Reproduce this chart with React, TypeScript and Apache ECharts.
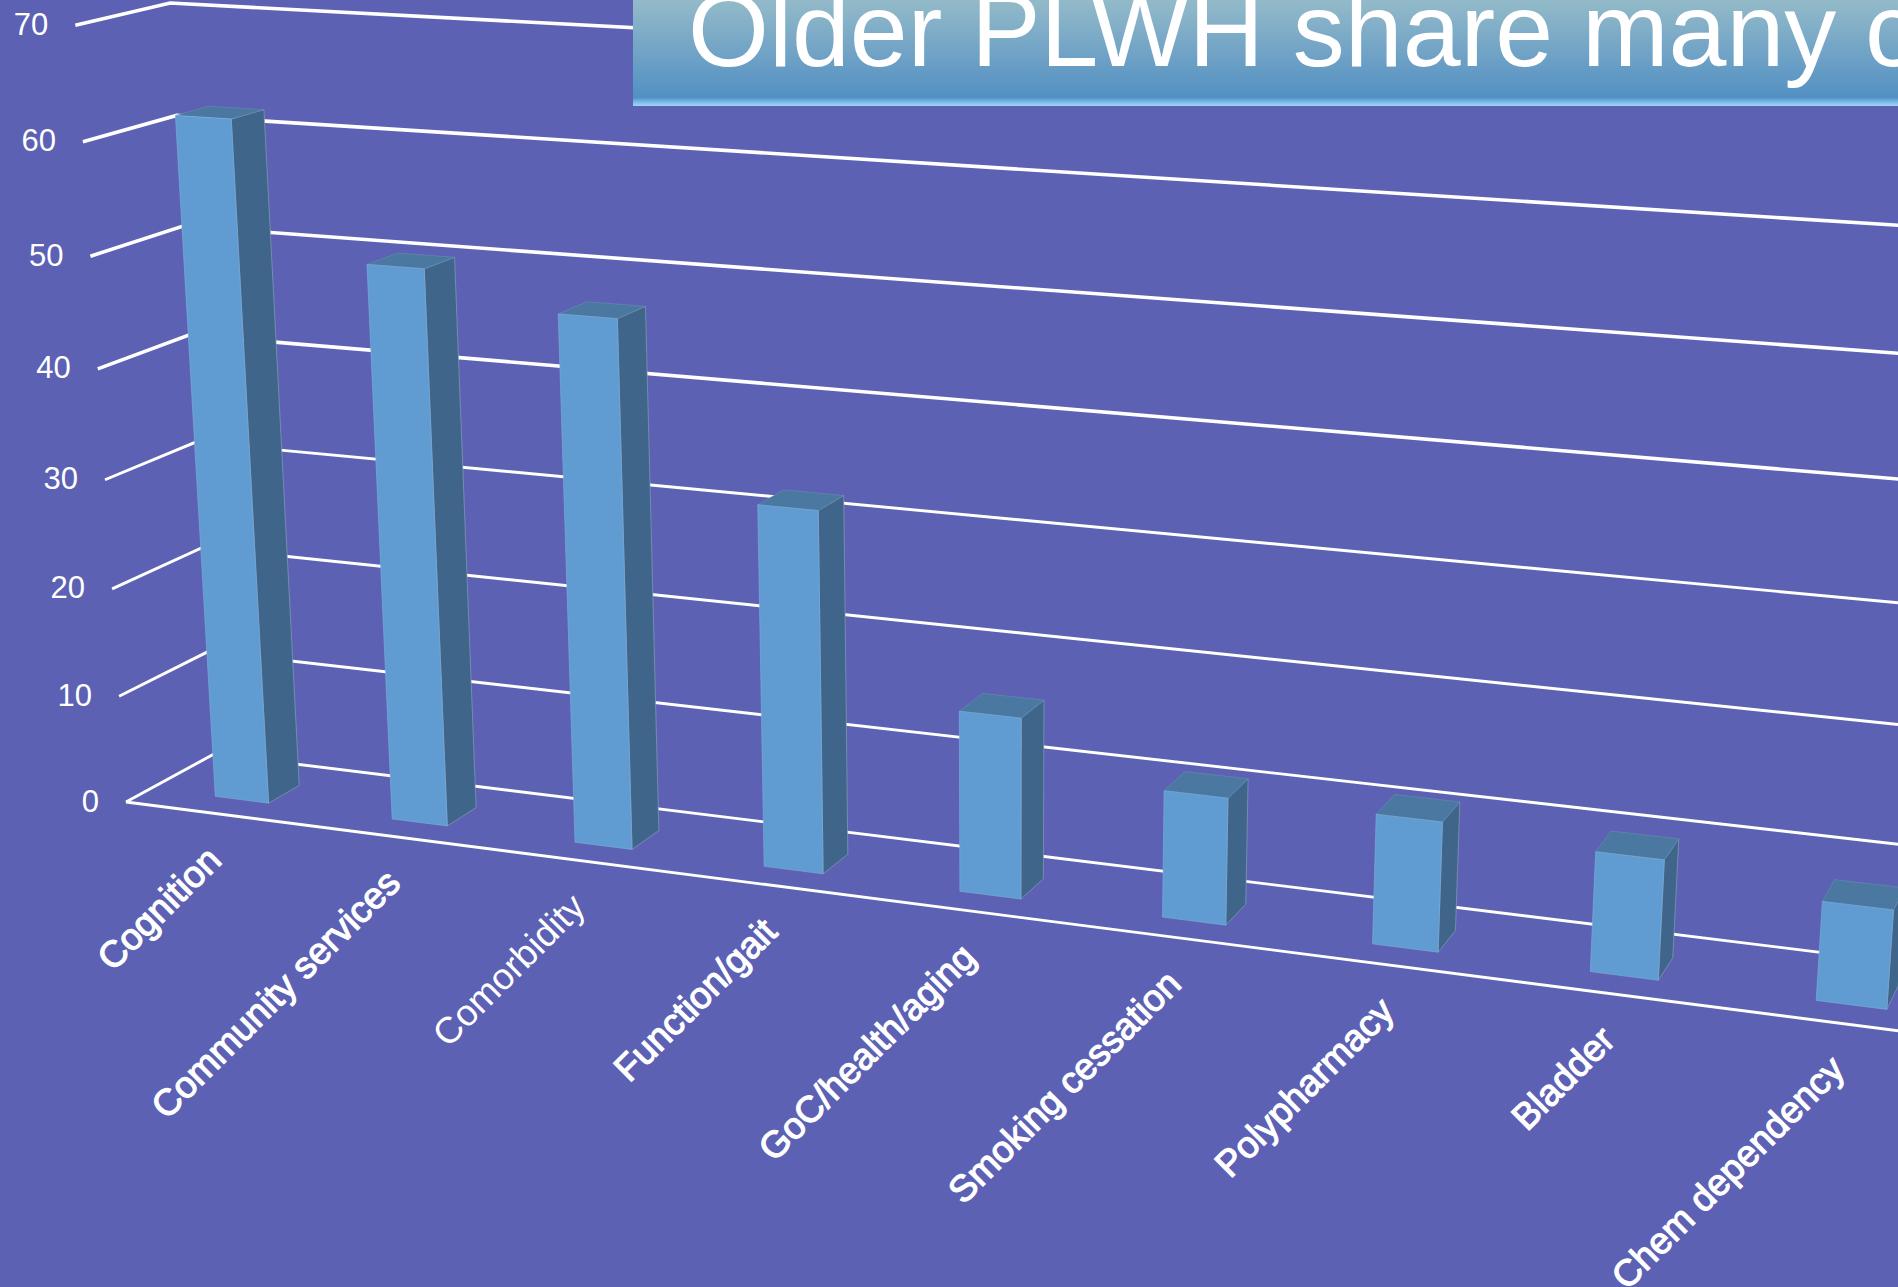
import React, { useEffect, useRef } from "react";
import * as echarts from "echarts";

const categories = ["Cognition", "Community services", "Comorbidity", "Function/gait", "GoC/health/aging", "Smoking cessation", "Polypharmacy", "Bladder", "Chem dependency"];
const values = [62, 50.2, 47.2, 32.2, 16, 11.1, 11.2, 10.2, 8.3];
const valueTicks = [0, 10, 20, 30, 40, 50, 60, 70];
const thinLabels = ["Comorbidity"];
const titleText = "Older PLWH share many c";

// perspective camera: three vanishing points and the near floor corner
const O = [126, 802];
const Vu = [-10450, -563];
const Vv = [1000, 14200];
const Vw = [2660, -580];
const a = -0.01638;
const b = -0.0548 / 70;
const c = 0.036;
const project = (u: number, v: number, w: number) => {
  const W = 1 + a * u + b * v + c * w;
  return [
    (O[0] + a * u * Vu[0] + b * v * Vv[0] + c * w * Vw[0]) / W,
    (O[1] + a * u * Vu[1] + b * v * Vv[1] + c * w * Vw[1]) / W,
  ];
};
const toModel = (params: any, api: any, x: number, y: number) => {
  const [px, py] = api.coord([x, y]);
  const s = params.coordSys;
  return [((px - s.x) / s.width) * categories.length, ((s.y + s.height - py) / s.height) * 70];
};
const FONT = '"Liberation Sans", Arial, sans-serif';

export default function App() {
  const ref = useRef<HTMLDivElement>(null);
  useEffect(() => {
    document.body.style.margin = "0";
    document.body.style.overflow = "hidden";
    const chart = echarts.init(ref.current!, undefined, { renderer: "svg" });
    const n = categories.length;
    chart.setOption({
      animation: false,
      backgroundColor: "#5C61B3",
      grid: { left: 0, right: 0, top: 0, bottom: 0 },
      xAxis: { type: "category", data: categories, show: false },
      yAxis: { type: "value", min: 0, max: 70, interval: 10, show: false },
      title: {
        text: titleText,
        left: 683,
        top: -27,
        z: 20,
        textStyle: { color: "#ffffff", fontSize: 104, fontWeight: "normal", fontFamily: FONT },
      },
      graphic: {
        elements: [
          {
            type: "rect",
            z: 10,
            shape: { x: 633, y: 0, width: 1265, height: 106 },
            style: {
              fill: new echarts.graphic.LinearGradient(0, 0, 0, 1, [
                { offset: 0, color: "#93BAC9" },
                { offset: 0.5, color: "#71A3C6" },
                { offset: 0.92, color: "#5290C3" },
                { offset: 0.97, color: "#7FC4EE" },
                { offset: 1, color: "#A5D4EE" },
              ]),
            },
          },
        ],
      },
      series: [
        {
          type: "custom",
          coordinateSystem: "cartesian2d",
          silent: true,
          z: 2,
          data: valueTicks.map((v) => [0, v]),
          renderItem: (params: any, api: any) => {
            const v = toModel(params, api, api.value(0), api.value(1))[1];
            const lw = v > 35 ? 3.6 : 2.9;
            const front = project(0, v, 0);
            const back = project(0, v, 1);
            const end = project(n, v, 1);
            const children: any[] = [
              { type: "polyline", shape: { points: [front, back, end] }, style: { stroke: "#fff", lineWidth: lw, fill: "none" } },
              {
                type: "text",
                x: front[0] - 27,
                y: front[1] - 1,
                style: { text: String(valueTicks[params.dataIndex]), fill: "#fff", font: `31px ${FONT}`, align: "right", verticalAlign: "middle" },
              },
            ];
            if (v === 0) {
              children.push({ type: "line", shape: { x1: front[0], y1: front[1], x2: project(n, 0, 0)[0], y2: project(n, 0, 0)[1] }, style: { stroke: "#fff", lineWidth: 2.9 } });
            }
            return { type: "group", children };
          },
        },
        {
          type: "custom",
          coordinateSystem: "cartesian2d",
          silent: true,
          z: 3,
          data: categories.map((_, i) => [i, values[i]]),
          renderItem: (params: any, api: any) => {
            const [uc, v] = toModel(params, api, api.value(0), api.value(1));
            const u0 = uc - 0.13;
            const u1 = uc + 0.175;
            const w0 = 0.28;
            const w1 = 0.64;
            const fbl = project(u0, 0, w0);
            const fbr = project(u1, 0, w0);
            const ftl = project(u0, v, w0);
            const ftr = project(u1, v, w0);
            const bbr = project(u1, 0, w1);
            const btr = project(u1, v, w1);
            const btl = project(u0, v, w1);
            return {
              type: "group",
              children: [
                { type: "polygon", shape: { points: [fbr, bbr, btr, ftr] }, style: { fill: "#3F668A", stroke: "#8FA6BE", lineWidth: 0.6 } },
                { type: "polygon", shape: { points: [ftl, ftr, btr, btl] }, style: { fill: "#4A78A0", stroke: "#6F92B4", lineWidth: 0.5 } },
                { type: "polygon", shape: { points: [fbl, fbr, ftr, ftl] }, style: { fill: "#609BD1", stroke: "#7DB0DC", lineWidth: 0.6 } },
              ],
            };
          },
        },
        {
          type: "custom",
          coordinateSystem: "cartesian2d",
          silent: true,
          z: 4,
          data: categories.map((_, i) => [i, 0]),
          renderItem: (params: any, api: any) => {
            const [uc] = toModel(params, api, api.value(0), api.value(1));
            const p = project(uc, 0, 0);
            const name = categories[params.dataIndex];
            const thin = thinLabels.includes(name);
            return {
              type: "text",
              x: p[0] + 1,
              y: p[1] + 40,
              rotation: Math.PI / 4,
              style: {
                text: name,
                fill: "#fff",
                font: `37px ${FONT}`,
                align: "right",
                verticalAlign: "middle",
                stroke: thin ? undefined : "#fff",
                lineWidth: thin ? 0 : 1.2,
              },
            };
          },
        },
      ],
    });
    return () => chart.dispose();
  }, []);
  return <div ref={ref} style={{ position: "absolute", left: 0, top: 0, width: 1898, height: 1287 }} />;
}
